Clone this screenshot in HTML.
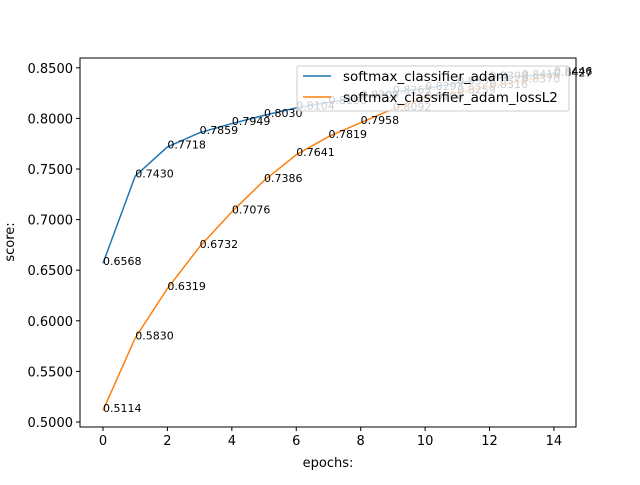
<!DOCTYPE html>
<html><head><meta charset="utf-8"><style>
body{margin:0;background:#fff}
text{font-family:"DejaVu Sans","Liberation Sans",sans-serif}
</style></head><body>
<svg width="640" height="480" xmlns="http://www.w3.org/2000/svg">
<g id="plot"></g>
</svg>
<script>
const epochs=[0,1,2,3,4,5,6,7,8,9,10,11,12,13,14];
const adam=[0.6568,0.7430,0.7718,0.7859,0.7949,0.8030,0.8104,0.8158,0.8209,0.8263,0.8293,0.8350,0.8398,0.8416,0.8446];
const adamL2=[0.5114,0.5830,0.6319,0.6732,0.7076,0.7386,0.7641,0.7819,0.7958,0.8092,0.8200,0.8259,0.8316,0.8370,0.8427];
const xTicks=[0,2,4,6,8,10,12,14];
const yTicks=[0.5,0.55,0.6,0.65,0.7,0.75,0.8,0.85];
const L=80,R=576,T=58,B=427;
const X=v=>103+v*32.21;
const Y=v=>422-(v-0.5)/0.05*50.6;
const NS='http://www.w3.org/2000/svg';
const g=document.getElementById('plot');
function mk(t,a,p){const e=document.createElementNS(NS,t);for(const k in a)e.setAttribute(k,a[k]);(p||g).appendChild(e);return e;}
let e;
e=mk('rect',{x:L,y:T,width:R-L,height:B-T,fill:'none',stroke:'#000','stroke-width':1});


xTicks.forEach(t=>{mk('line',{x1:X(t),x2:X(t),y1:B,y2:B+4,stroke:'#000'});
 e=mk('text',{x:X(t),y:B+18,'text-anchor':'middle','font-size':13});e.textContent=t;
 
 });
yTicks.forEach(t=>{mk('line',{x1:L-4,x2:L,y1:Y(t),y2:Y(t),stroke:'#000'});
 e=mk('text',{x:L-7,y:Y(t)+5,'text-anchor':'end','font-size':13});e.textContent=t.toFixed(4);
 
 });
e=mk('text',{x:328,y:467,'text-anchor':'middle','font-size':13});e.textContent='epochs:';


e=mk('text',{x:14,y:242,'text-anchor':'middle','font-size':13,transform:'rotate(-90 14 242)'});e.textContent='score:';


function series(vals,color,name){
 e=mk('polyline',{points:vals.map((v,i)=>X(epochs[i])+','+Y(v)).join(' '),fill:'none',stroke:color,'stroke-width':1.5});
 
 
 vals.forEach((v,i)=>{e=mk('text',{x:X(epochs[i]),y:Y(v)+1.5,'font-size':11});e.textContent=v.toFixed(4);
  
  });
}
series(adam,'#1f77b4','adam');
series(adamL2,'#ff7f0e','adam-lossl2');
const lg=mk('g',{});


mk('rect',{x:297,y:66,width:272,height:45,rx:2,fill:'#fff','fill-opacity':0.8,stroke:'#ccc'},lg);
mk('line',{x1:303,x2:331,y1:76,y2:76,stroke:'#1f77b4','stroke-width':1.5},lg);
e=mk('text',{x:343,y:81,'font-size':13.5},lg);e.textContent='softmax_classifier_adam';


mk('line',{x1:303,x2:331,y1:97,y2:97,stroke:'#ff7f0e','stroke-width':1.5},lg);
e=mk('text',{x:343,y:102,'font-size':13.5},lg);e.textContent='softmax_classifier_adam_lossL2';


</script>
</body></html>
